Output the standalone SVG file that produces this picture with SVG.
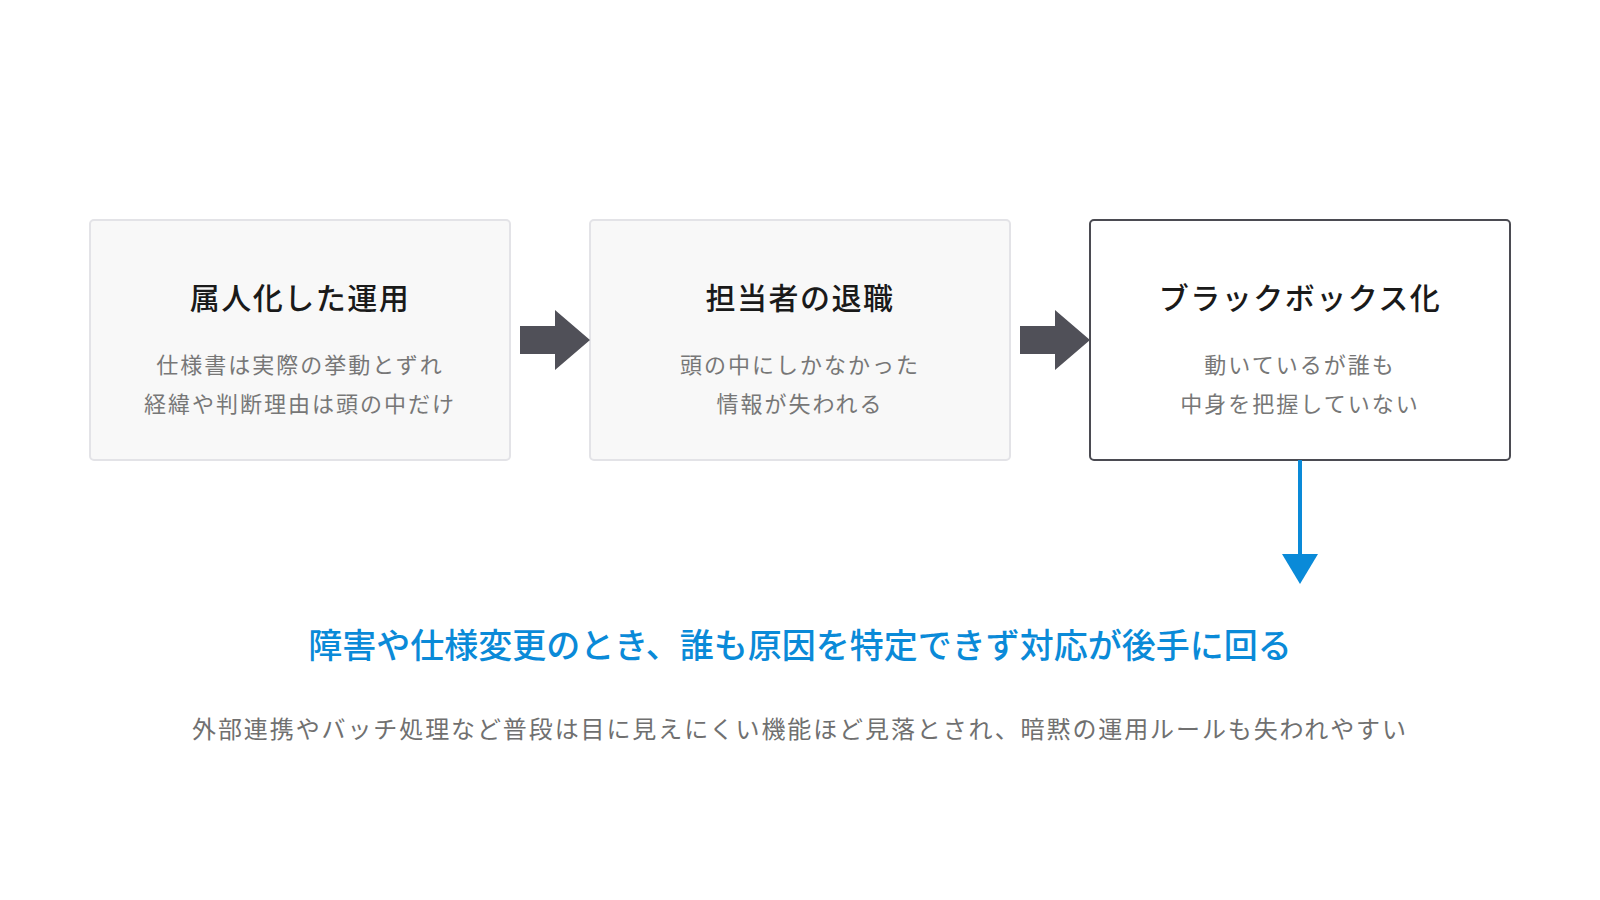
<svg xmlns="http://www.w3.org/2000/svg" width="1600" height="900" viewBox="0 0 1600 900">
<style>
text{font-family:"Noto Sans CJK JP","Noto Sans",sans-serif;text-anchor:middle}
.box{fill:#f8f8f8;stroke:#e3e3e7;stroke-width:2}
.box.hl{fill:#ffffff;stroke:#4b4b52;stroke-width:2}
.title{font-size:30px;font-weight:500;fill:#1a1a1a;letter-spacing:1.5px}
.sub{font-size:22px;fill:#777777;letter-spacing:2px}
.blk{fill:#505058}
.key{font-size:34px;font-weight:500;fill:#0a8ad8}
.note{font-size:24px;fill:#707070;letter-spacing:1.9px}
</style>
<rect width="1600" height="900" fill="#ffffff"/>
<g id="node1">
<rect class="box" x="90" y="220" width="420" height="240" rx="4"/>
<text class="title" x="300" y="309">属人化した運用</text>
<text class="sub" x="300" y="373">仕様書は実際の挙動とずれ</text>
<text class="sub" x="300" y="412">経緯や判断理由は頭の中だけ</text>
</g>
<g id="node2">
<rect class="box" x="590" y="220" width="420" height="240" rx="4"/>
<text class="title" x="800" y="309">担当者の退職</text>
<text class="sub" x="800" y="373">頭の中にしかなかった</text>
<text class="sub" x="800" y="412">情報が失われる</text>
</g>
<g id="node3">
<rect class="box hl" x="1090" y="220" width="420" height="240" rx="4"/>
<text class="title" x="1300" y="309">ブラックボックス化</text>
<text class="sub" x="1300" y="373">動いているが誰も</text>
<text class="sub" x="1300" y="412">中身を把握していない</text>
</g>
<g id="connectors">
<polygon class="blk" points="520,326 555,326 555,310 590,340 555,370 555,354 520,354"/>
<polygon class="blk" points="1020,326 1055,326 1055,310 1090,340 1055,370 1055,354 1020,354"/>
<line x1="1300" y1="460" x2="1300" y2="556" stroke="#0a8ad8" stroke-width="4"/>
<polygon points="1282,554 1318,554 1300,584" fill="#0a8ad8"/>
</g>
<g id="result">
<text class="key" x="800" y="658">障害や仕様変更のとき、誰も原因を特定できず対応が後手に回る</text>
<text class="note" x="800" y="738">外部連携やバッチ処理など普段は目に見えにくい機能ほど見落とされ、暗黙の運用ルールも失われやすい</text>
</g>
</svg>
